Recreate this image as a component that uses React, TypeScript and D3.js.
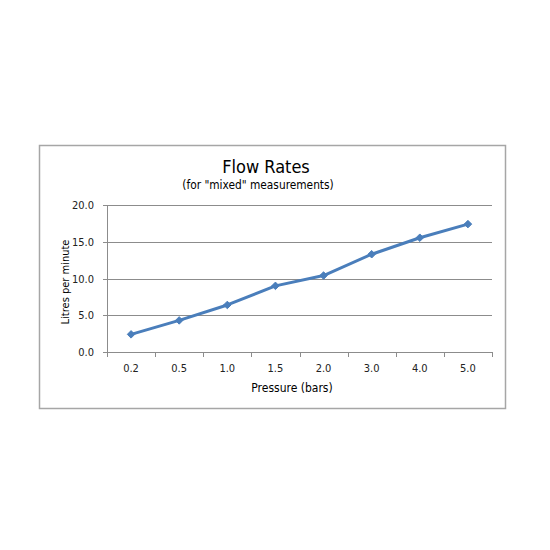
import React from "react";
import * as d3 from "d3";

const categories = ["0.2", "0.5", "1.0", "1.5", "2.0", "3.0", "4.0", "5.0"];
const flowValues = [2.4, 4.3, 6.4, 9.0, 10.4, 13.3, 15.55, 17.4];
const yTicks = [0, 5, 10, 15, 20];

const FONT = "'DejaVu Sans Condensed', 'DejaVu Sans', sans-serif";

export default function App() {
  const left = 107, right = 492, top = 205, bottom = 352;
  const x = d3.scaleBand<string>().domain(categories).range([left, right]);
  const y = d3.scaleLinear().domain([0, 20]).range([bottom, top]);
  const line = d3
    .line<number>()
    .x((_, i) => (x(categories[i]) as number) + x.bandwidth() / 2)
    .y((d) => y(d));
  const diamond = d3.symbol().type(d3.symbolDiamond2).size(36)();
  const xTickPos = [...categories.map((c) => x(c) as number), right];

  return (
    <svg width={550} height={550} style={{ position: "absolute", left: 0, top: 0 }}>
      <rect x={0} y={0} width={550} height={550} fill="#fff" />
      <rect x={39.5} y={145.5} width={466} height={263} fill="#fff" stroke="#a6a6a6" strokeWidth={1.5} />
      <text x={266} y={173} textAnchor="middle" fontFamily={FONT} fontSize={18} fill="#000">
        Flow Rates
      </text>
      <text x={258} y={189} textAnchor="middle" fontFamily={FONT} fontSize={11.8} fill="#000">
        (for "mixed" measurements)
      </text>
      {yTicks.map((t) => (
        <g key={t}>
          <line x1={left} x2={right} y1={Math.round(y(t)) + 0.5} y2={Math.round(y(t)) + 0.5} stroke="#8c8c8c" strokeWidth={1} />
          <line x1={left - 4} x2={left} y1={Math.round(y(t)) + 0.5} y2={Math.round(y(t)) + 0.5} stroke="#8c8c8c" strokeWidth={1} />
          <text x={94} y={y(t) + 4} textAnchor="end" fontFamily={FONT} fontSize={11} fill="#222">
            {t.toFixed(1)}
          </text>
        </g>
      ))}
      <line x1={left + 0.5} x2={left + 0.5} y1={top} y2={bottom} stroke="#8c8c8c" strokeWidth={1} />
      {xTickPos.map((p, i) => (
        <line key={i} x1={Math.round(p) + 0.5} x2={Math.round(p) + 0.5} y1={bottom} y2={bottom + 5} stroke="#8c8c8c" strokeWidth={1} />
      ))}
      {categories.map((c) => (
        <text key={c} x={(x(c) as number) + x.bandwidth() / 2} y={372} textAnchor="middle" fontFamily={FONT} fontSize={11} fill="#222">
          {c}
        </text>
      ))}
      <text x={292} y={392} textAnchor="middle" fontFamily={FONT} fontSize={12} fill="#000">
        Pressure (bars)
      </text>
      <text transform={`translate(69,282) rotate(-90)`} textAnchor="middle" fontFamily={FONT} fontSize={11} fill="#000">
        Litres per minute
      </text>
      <path d={line(flowValues) || ""} fill="none" stroke="#4a7ebb" strokeWidth={3} strokeLinejoin="round" />
      {flowValues.map((v, i) => (
        <path
          key={i}
          d={diamond || ""}
          transform={`translate(${(x(categories[i]) as number) + x.bandwidth() / 2},${y(v)})`}
          fill="#4a7ebb"
          stroke="#4a7ebb"
        />
      ))}
    </svg>
  );
}
